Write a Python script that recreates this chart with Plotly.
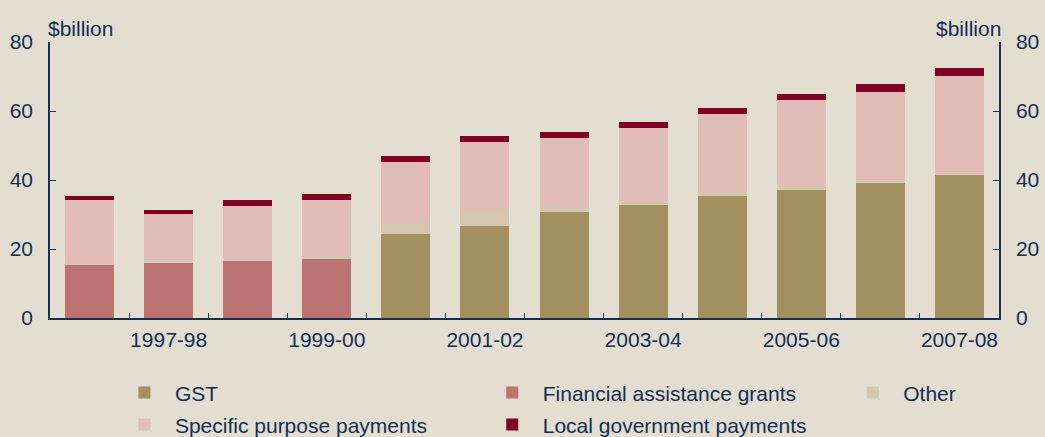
import plotly.graph_objects as go

years = ["1996-97", "1997-98", "1998-99", "1999-00", "2000-01", "2001-02",
         "2002-03", "2003-04", "2004-05", "2005-06", "2006-07", "2007-08"]
tick_labels = ["", "1997-98", "", "1999-00", "", "2001-02",
               "", "2003-04", "", "2005-06", "", "2007-08"]

gst = [0, 0, 0, 0, 24.3, 26.6, 30.7, 32.7, 35.3, 37.1, 39.4, 41.7]
fag = [15.3, 16.2, 16.8, 17.0, 0, 0, 0, 0, 0, 0, 0, 0]
other = [0.7, 0.4, 0.1, 0.9, 3.5, 4.6, 1.7, 0.9, 1.2, 1.1, 0.2, 0.1]
spp = [18.2, 13.5, 15.5, 16.3, 17.4, 19.8, 19.8, 21.5, 22.6, 25.0, 25.9, 28.3]
lgp = [1.1, 1.2, 1.8, 1.7, 1.7, 1.7, 1.7, 1.7, 1.8, 1.7, 2.3, 2.3]

BG = "#E4DED1"
TXT = "#0F2F57"
FONT = "Arial, Liberation Sans, sans-serif"
FS = 21

series = [
    ("GST", gst, "#A39060", "legend"),
    ("Financial assistance grants", fag, "#BC7472", "legend2"),
    ("Other", other, "#D3C7B0", "legend3"),
    ("Specific purpose payments", spp, "#E2BDB8", "legend4"),
    ("Local government payments", lgp, "#7F0022", "legend5"),
]

fig = go.Figure()
for name, vals, col, lg in series:
    fig.add_trace(go.Bar(x=years, y=vals, name=name, marker_color=col,
                         marker_line_width=0, legend=lg))

# invisible trace to activate the right-hand axis
fig.add_trace(go.Scatter(x=[years[0]], y=[0], yaxis="y2", mode="markers",
                         marker_opacity=0, showlegend=False, hoverinfo="skip"))


def leg(x, y):
    return dict(orientation="v", xref="container", yref="container",
                x=x, y=y, xanchor="left", yanchor="middle", itemwidth=51,
                bgcolor="rgba(0,0,0,0)", font=dict(size=FS, color=TXT))


fig.update_layout(
    barmode="stack",
    bargap=0.38,
    width=1045, height=437,
    paper_bgcolor=BG, plot_bgcolor=BG,
    margin=dict(l=50, r=46, t=42, b=119, autoexpand=False),
    font=dict(family=FONT, color=TXT, size=FS),
    xaxis=dict(type="category", tickmode="array", tickvals=years,
               ticktext=tick_labels, tickson="boundaries", ticks="inside",
               ticklen=5, tickcolor=TXT, showline=True, linecolor=TXT,
               linewidth=1.5, showgrid=False, tickfont=dict(size=FS),
               tickangle=0, automargin=False, ticklabelstandoff=2,
               range=[-0.5, len(years) - 0.5]),
    yaxis=dict(range=[0, 80], dtick=20, ticks="inside", ticklen=6,
               tickcolor=TXT, showline=True, linecolor=TXT, linewidth=1.5,
               showgrid=False, zeroline=False, tickfont=dict(size=FS),
               automargin=False, ticklabelstandoff=11),
    yaxis2=dict(range=[0, 80], dtick=20, ticks="inside", ticklen=6,
                tickcolor=TXT, showline=True, linecolor=TXT, linewidth=1.5,
                showgrid=False, zeroline=False, overlaying="y", side="right",
                tickfont=dict(size=FS), automargin=False,
                ticklabelstandoff=11),
    legend=leg(0.109, 0.101),
    legend2=leg(0.461, 0.101),
    legend3=leg(0.806, 0.101),
    legend4=leg(0.109, 0.028),
    legend5=leg(0.461, 0.028),
    annotations=[
        dict(text="$billion", xref="paper", yref="paper", x=-0.004, y=1.0,
             xanchor="left", yanchor="bottom", showarrow=False,
             font=dict(size=FS, color=TXT), yshift=0),
        dict(text="$billion", xref="paper", yref="paper", x=1.004, y=1.0,
             xanchor="right", yanchor="bottom", showarrow=False,
             font=dict(size=FS, color=TXT), yshift=0),
    ],
)

fig.write_html("out.html", config={"displayModeBar": False},
               post_script="document.body.style.margin='0';")
